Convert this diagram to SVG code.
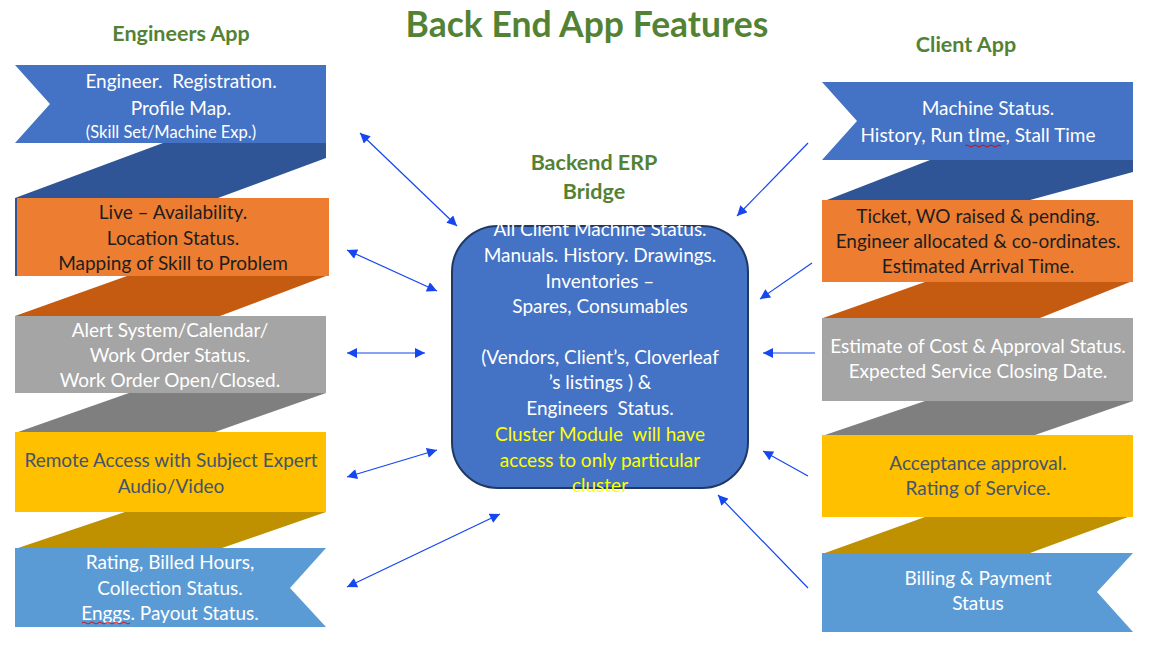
<svg xmlns="http://www.w3.org/2000/svg" width="1151" height="648" viewBox="0 0 1151 648">
<style>
.t{font-family:Lato,"Open Sans","Liberation Sans",sans-serif;font-size:19px;text-anchor:middle;white-space:pre}
.w{fill:#ffffff}
.k{fill:#1e1e1e}
.y{fill:#44546A}
.g{fill:#548235;font-weight:bold}
.c{stroke:#1546F0;stroke-width:1.2;fill:none}
.sq{stroke:#E00000;stroke-width:0.9;fill:none}
</style>
<defs>
<marker id="ah" viewBox="0 0 10 10" refX="10" refY="5" markerWidth="11" markerHeight="10" markerUnits="userSpaceOnUse" orient="auto-start-reverse">
<path d="M0,0 L10,5 L0,10 z" fill="#1546F0"/>
</marker>
</defs>
<rect width="1151" height="648" fill="#ffffff"/>

<text class="t g" x="587" y="37" style="font-size:35.5px">Back End App Features</text>
<text class="t g" x="181" y="41" style="font-size:21.5px">Engineers App</text>
<text class="t g" x="966" y="52" style="font-size:21.5px">Client App</text>

<g id="left-folds">
<polygon points="163,143 326,143 326,158 218,198 15,198" fill="#2F5597"/>
<rect x="15" y="198" width="3" height="78" fill="#2F5597"/>
<polygon points="127,276 326,276 220,316 15,316" fill="#C55A11"/>
<polygon points="129,393 326,393 215,432 18,432" fill="#7F7F7F"/>
<polygon points="125,512 326,512 222,548 18,548" fill="#BF9000"/>
</g>
<g id="right-folds">
<polygon points="930,160 1133,160 1133,172 1030,200 827,200" fill="#2F5597"/>
<polygon points="925,282 1130,282 1040,318 823,318" fill="#C55A11"/>
<polygon points="925,401 1133,401 1035,435 825,435" fill="#7F7F7F"/>
<polygon points="925,517 1128,517 1030,553 825,553" fill="#BF9000"/>
</g>

<g id="eng-registration">
<polygon points="15,65 326,65 326,143 15,143 50,104" fill="#4472C4"/>
<text class="t w" x="181" y="88">Engineer.  Registration.</text>
<text class="t w" x="181" y="115">Profile Map.</text>
<text class="t w" x="171" y="138" style="font-size:16.5px">(Skill Set/Machine Exp.)</text>
</g>
<g id="eng-availability">
<rect x="17" y="198" width="312" height="78" fill="#ED7D31"/>
<text class="t k" x="173" y="219">Live – Availability.</text>
<text class="t k" x="173" y="245">Location Status.</text>
<text class="t k" x="173" y="270">Mapping of Skill to Problem</text>
</g>
<g id="eng-alert">
<rect x="15" y="316" width="311" height="77" fill="#A5A5A5"/>
<text class="t w" x="170" y="337">Alert System/Calendar/</text>
<text class="t w" x="170" y="362">Work Order Status.</text>
<text class="t w" x="170" y="387">Work Order Open/Closed.</text>
</g>
<g id="eng-remote">
<rect x="15" y="432" width="311" height="80" fill="#FFC000"/>
<text class="t y" x="171" y="467">Remote Access with Subject Expert</text>
<text class="t y" x="171" y="493">Audio/Video</text>
</g>
<g id="eng-rating">
<polygon points="15,548 326,548 290,588 326,627 15,627" fill="#5B9BD5"/>
<text class="t w" x="170" y="569">Rating, Billed Hours,</text>
<text class="t w" x="170" y="595">Collection Status.</text>
<text class="t w" x="170" y="620">Enggs. Payout Status.</text>
<path class="sq" d="M82,623 q2,-2 4,0 t4,0 t4,0 t4,0 t4,0 t4,0 t4,0 t4,0 t4,0 t4,0 t4,0 t4,0"/>
</g>

<g id="client-machine">
<polygon points="822,82 1133,82 1133,160 822,160 857,121" fill="#4472C4"/>
<text class="t w" x="988" y="115">Machine Status.</text>
<text class="t w" x="978" y="142">History, Run tIme, Stall Time</text>
<path class="sq" d="M965,146 q2,-2 4,0 t4,0 t4,0 t4,0 t4,0 t4,0 t4,0 t4,0 t4,0"/>
</g>
<g id="client-ticket">
<rect x="822" y="200" width="311" height="82" fill="#ED7D31"/>
<text class="t k" x="978" y="223">Ticket, WO raised &amp; pending.</text>
<text class="t k" x="978" y="248">Engineer allocated &amp; co-ordinates.</text>
<text class="t k" x="978" y="273">Estimated Arrival Time.</text>
</g>
<g id="client-estimate">
<rect x="822" y="318" width="311" height="83" fill="#A5A5A5"/>
<text class="t w" x="978" y="353">Estimate of Cost &amp; Approval Status.</text>
<text class="t w" x="978" y="378">Expected Service Closing Date.</text>
</g>
<g id="client-acceptance">
<rect x="822" y="435" width="311" height="82" fill="#FFC000"/>
<text class="t y" x="978" y="470">Acceptance approval.</text>
<text class="t y" x="978" y="495">Rating of Service.</text>
</g>
<g id="client-billing">
<polygon points="822,553 1133,553 1097,592 1133,632 822,632" fill="#5B9BD5"/>
<text class="t w" x="978" y="585">Billing &amp; Payment</text>
<text class="t w" x="978" y="610">Status</text>
</g>

<g id="backend">
<text class="t g" x="594" y="170" style="font-size:21.5px">Backend ERP</text>
<text class="t g" x="594" y="199" style="font-size:21.5px">Bridge</text>
<rect x="452" y="226" width="296" height="262" rx="46" ry="46" fill="#4472C4" stroke="#1F3864" stroke-width="2"/>
<text class="t w" x="600" y="236">All Client Machine Status.</text>
<text class="t w" x="600" y="262">Manuals. History. Drawings.</text>
<text class="t w" x="600" y="288">Inventories –</text>
<text class="t w" x="600" y="313">Spares, Consumables</text>
<text class="t w" x="600" y="364">(Vendors, Client’s, Cloverleaf</text>
<text class="t w" x="600" y="389">’s listings ) &amp;</text>
<text class="t w" x="600" y="415">Engineers  Status.</text>
<text class="t" x="600" y="441" fill="#FFFF00">Cluster Module  will have</text>
<text class="t" x="600" y="467" fill="#FFFF00">access to only particular</text>
<text class="t" x="600" y="492" fill="#FFFF00">cluster</text>
</g>

<g id="connectors">
<line class="c" x1="360" y1="133" x2="457" y2="226" marker-start="url(#ah)" marker-end="url(#ah)"/>
<line class="c" x1="347" y1="250" x2="437" y2="291" marker-start="url(#ah)" marker-end="url(#ah)"/>
<line class="c" x1="347" y1="353" x2="425" y2="353" marker-start="url(#ah)" marker-end="url(#ah)"/>
<line class="c" x1="347" y1="477" x2="437" y2="450" marker-start="url(#ah)" marker-end="url(#ah)"/>
<line class="c" x1="347" y1="587" x2="500" y2="514" marker-start="url(#ah)" marker-end="url(#ah)"/>
<line class="c" x1="808" y1="143" x2="737" y2="216" marker-end="url(#ah)"/>
<line class="c" x1="812" y1="263" x2="760" y2="299" marker-end="url(#ah)"/>
<line class="c" x1="815" y1="353" x2="763" y2="353" marker-end="url(#ah)"/>
<line class="c" x1="808" y1="476" x2="763" y2="451" marker-end="url(#ah)"/>
<line class="c" x1="808" y1="588" x2="718" y2="495" marker-end="url(#ah)"/>
</g>
</svg>
